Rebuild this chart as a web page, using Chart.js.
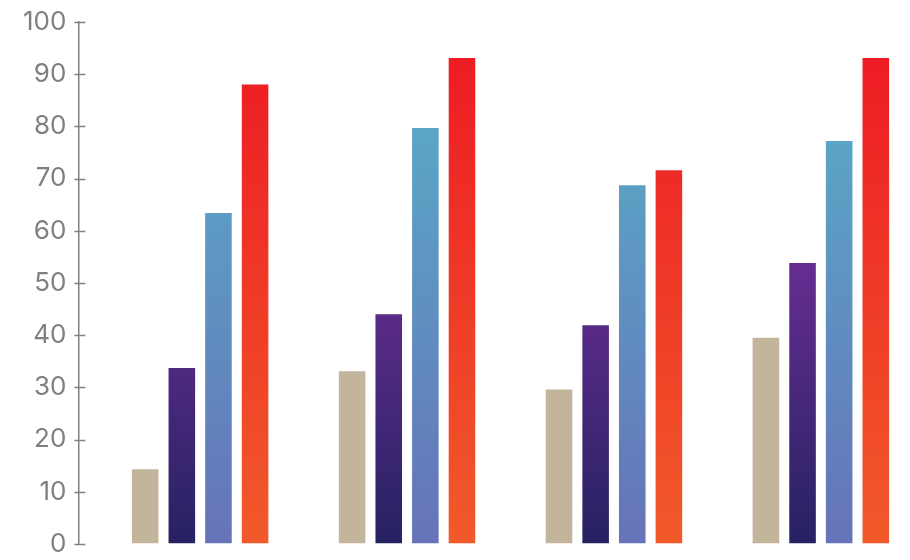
<!DOCTYPE html>
<html>
<head>
<meta charset="utf-8">
<script src="https://cdn.jsdelivr.net/npm/chart.js@4/dist/chart.umd.min.js"></script>
<style>
  html, body { margin: 0; padding: 0; background: #fff; }
  #wrap { width: 910px; height: 560px; }
</style>
</head>
<body>
<div id="wrap"><canvas id="bars"></canvas></div>
<script>
const categories = ['A', 'B', 'C', 'D'];
const spacer = [null, null, null, null];
const beige = [14.5, 33.3, 29.8, 39.7];
const purple = [33.9, 44.2, 42.1, 54.0];
const blue = [63.6, 79.9, 68.9, 77.4];
const red = [88.2, 93.3, 71.8, 93.3];

const axisGray = '#808080';

// vertical gradient from 0 up to the dataset's max value
function grad(bottom, top) {
    return (ctx) => {
        const chart = ctx.chart;
        const area = chart.chartArea;
        if (!area) return bottom;
        const y = chart.scales.y;
        const max = Math.max(...ctx.dataset.data.filter(v => v != null));
        const g = chart.ctx.createLinearGradient(0, y.getPixelForValue(0), 0, y.getPixelForValue(max));
        g.addColorStop(0, bottom);
        g.addColorStop(1, top);
        return g;
    };
}

const barStyle = {
    borderWidth: 1,
    borderColor: 'rgba(255,255,255,0.45)',
    borderSkipped: 'bottom',
};

// tick marks that cross the axis line
const innerTicks = {
    id: 'innerTicks',
    afterDraw(chart) {
        const y = chart.scales.y;
        const c = chart.ctx;
        const x0 = y.right;
        c.save();
        c.strokeStyle = axisGray;
        c.lineWidth = 1.5;
        y.ticks.forEach(t => {
            const py = Math.round(y.getPixelForValue(t.value)) + 0.5;
            c.beginPath();
            c.moveTo(x0 - 4, py);
            c.lineTo(x0 + 7, py);
            c.stroke();
        });
        c.restore();
    }
};

new Chart(document.getElementById('bars'), {
    type: 'bar',
    data: {
        labels: categories,
        datasets: [
            { label: '', data: spacer },
            { label: 'S1', data: beige, backgroundColor: '#c2b59b', ...barStyle },
            { label: 'S2', data: purple, backgroundColor: grad('#262262', '#662d91'), ...barStyle },
            { label: 'S3', data: blue, backgroundColor: grad('#6673b8', '#5aa6c6'), ...barStyle },
            { label: 'S4', data: red, backgroundColor: grad('#f15a2a', '#ed1c24'), ...barStyle },
        ]
    },
    options: {
        responsive: true,
        maintainAspectRatio: false,
        animation: false,
        layout: { padding: { top: 22, right: 4, bottom: 16, left: 11 } },
        datasets: {
            bar: { categoryPercentage: 0.885, barPercentage: 0.78 }
        },
        plugins: {
            legend: { display: false },
            tooltip: { enabled: false }
        },
        scales: {
            x: { display: false, offset: true },
            y: {
                min: 0,
                max: 100,
                afterFit(scale) {
                    // labels may overhang the plot; don't reserve room for them
                    scale.paddingTop = 0;
                    scale.paddingBottom = 0;
                },
                ticks: {
                    stepSize: 10,
                    color: axisGray,
                    padding: 12,
                    font: { family: 'Inter', size: 26 }
                },
                grid: {
                    drawOnChartArea: false,
                    drawTicks: false,
                    tickLength: 4,
                },
                border: { display: true, color: axisGray, width: 1.5 }
            }
        }
    },
    plugins: [innerTicks]
});
</script>
</body>
</html>
